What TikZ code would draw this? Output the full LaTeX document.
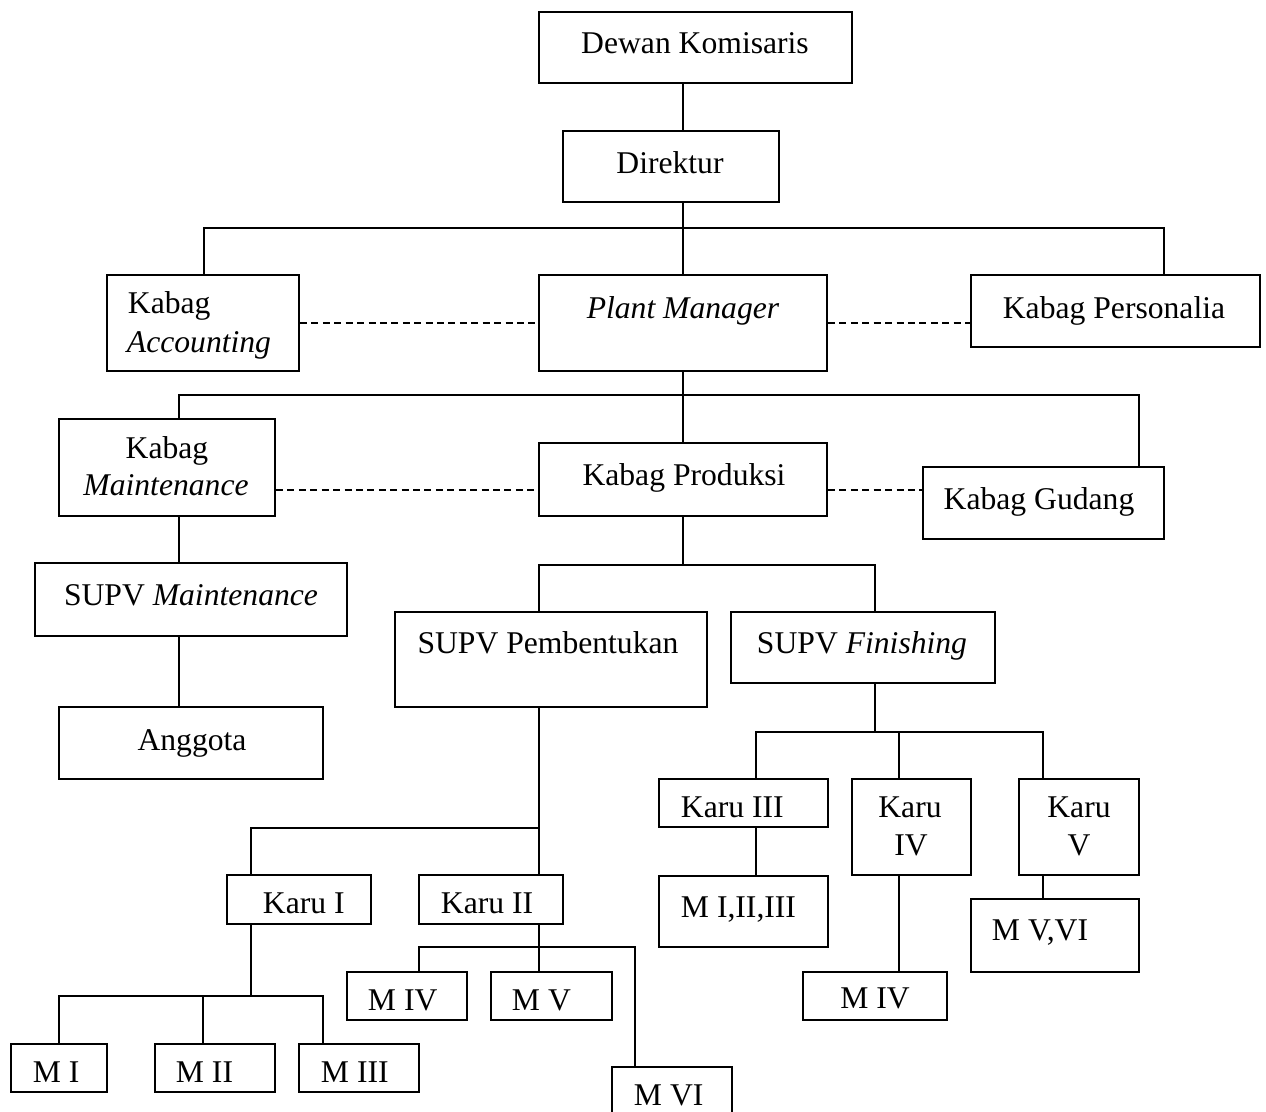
\documentclass[tikz,border=0pt]{standalone}
\usepackage{fontspec}
\setmainfont{Liberation Serif}
\usepackage{tikz}

\begin{document}
\begin{tikzpicture}[x=0.2mm,y=-0.2mm,line width=1.1pt,
    box/.style 2 args={draw,rectangle,inner sep=0pt,minimum width=#1*0.2mm,minimum height=#2*0.2mm},
    txt/.style={inner sep=0pt,font=\fontsize{18}{21.6}\selectfont},
    dash line/.style={line width=1.1pt,dash pattern=on 4pt off 2.5pt}]
  \useasboundingbox (0,0) rectangle (1266,1111);
  \begin{scope}
    % boxes
    \node[box={313}{71}] (dk) at (695.5,47.5) {};
    \node[box={216}{71}] (dir) at (671,166.5) {};
    \node[box={192}{96}] (acc) at (203,323) {};
    \node[box={288}{96}] (pm) at (683,323) {};
    \node[box={289}{72}] (pers) at (1115.5,311) {};
    \node[box={216}{97}] (mnt) at (167,467.5) {};
    \node[box={288}{73}] (prod) at (683,479.5) {};
    \node[box={241}{72}] (gud) at (1043.5,503) {};
    \node[box={312}{73}] (smnt) at (191,599.5) {};
    \node[box={264}{72}] (ang) at (191,743) {};
    \node[box={312}{95}] (spb) at (551,659.5) {};
    \node[box={264}{71}] (sfin) at (863,647.5) {};
    \node[box={144}{49}] (k1) at (299,899.5) {};
    \node[box={144}{49}] (k2) at (491,899.5) {};
    \node[box={169}{48}] (k3) at (743.5,803) {};
    \node[box={119}{96}] (k4) at (911.5,827) {};
    \node[box={120}{96}] (k5) at (1079,827) {};
    \node[box={96}{48}] (m1) at (59,1068) {};
    \node[box={120}{48}] (m2) at (215,1068) {};
    \node[box={120}{48}] (m3) at (359,1068) {};
    \node[box={120}{48}] (m4) at (407,996) {};
    \node[box={121}{48}] (m5) at (551.5,996) {};
    \node[box={120}{73}] (m6) at (672,1103.5) {};
    \node[box={169}{71}] (m123) at (743.5,911.5) {};
    \node[box={144}{48}] (m4b) at (875,996) {};
    \node[box={168}{73}] (m56) at (1055,935.5) {};

    % texts
    \node[txt,anchor=base] (dk-t) at (695,53) {Dewan Komisaris};
    \node[txt,anchor=base] (dir-t) at (670,173) {Direktur};
    \node[txt,anchor=base west] (acc-t1) at (127,313) {Kabag};
    \node[txt,anchor=base west] (acc-t2) at (126,352) {\textit{Accounting}};
    \node[txt,anchor=base] (pm-t) at (683,318) {\textit{Plant Manager}};
    \node[txt,anchor=base] (pers-t) at (1114,318) {Kabag Personalia};
    \node[txt,anchor=base] (mnt-t1) at (167,458) {Kabag};
    \node[txt,anchor=base] (mnt-t2) at (166,495) {\textit{Maintenance}};
    \node[txt,anchor=base] (prod-t) at (684,485) {Kabag Produksi};
    \node[txt,anchor=base] (gud-t) at (1039,509) {Kabag Gudang};
    \node[txt,anchor=base] (smnt-t) at (191,605) {SUPV \textit{Maintenance}};
    \node[txt,anchor=base] (ang-t) at (192,750) {Anggota};
    \node[txt,anchor=base] (spb-t) at (548,653) {SUPV Pembentukan};
    \node[txt,anchor=base] (sfin-t) at (862,653) {SUPV \textit{Finishing}};
    \node[txt,anchor=base west] (k1-t) at (262,913) {Karu I};
    \node[txt,anchor=base west] (k2-t) at (440,913) {Karu II};
    \node[txt,anchor=base west] (k3-t) at (680,817) {Karu III};
    \node[txt,anchor=base] (k4-t1) at (910,817) {Karu};
    \node[txt,anchor=base] (k4-t2) at (911,855) {IV};
    \node[txt,anchor=base] (k5-t1) at (1079,817) {Karu};
    \node[txt,anchor=base] (k5-t2) at (1079,855) {V};
    \node[txt,anchor=base west] (m1-t) at (32,1082) {M I};
    \node[txt,anchor=base west] (m2-t) at (175,1082) {M II};
    \node[txt,anchor=base west] (m3-t) at (320,1082) {M III};
    \node[txt,anchor=base west] (m4-t) at (367,1010) {M IV};
    \node[txt,anchor=base west] (m5-t) at (511,1010) {M V};
    \node[txt,anchor=base west] (m6-t) at (633,1105) {M VI};
    \node[txt,anchor=base west] (m123-t) at (680,917) {M I,II,III};
    \node[txt,anchor=base] (m4b-t) at (875,1008) {M IV};
    \node[txt,anchor=base west] (m56-t) at (991,940) {M V,VI};

    % junctions
    \coordinate (top-l) at (204,228);
    \coordinate (top-r) at (1164,228);
    \coordinate (mid-l) at (179,395);
    \coordinate (mid-r) at (1139,395);
    \coordinate (dsh) at (0,490);
    \coordinate (prod-l) at (539,565);
    \coordinate (prod-r) at (875,565);
    \coordinate (k-l) at (251,828);
    \coordinate (k-r) at (539,828);
    \coordinate (m-l) at (59,996);
    \coordinate (m-c) at (251,996);
    \coordinate (m-2) at (203,996);
    \coordinate (m-r) at (323,996);
    \coordinate (n-l) at (419,947);
    \coordinate (n-c) at (539,947);
    \coordinate (n-r) at (635,947);
    \coordinate (f-l) at (756,732);
    \coordinate (f-c) at (875,732);
    \coordinate (f-m) at (899,732);
    \coordinate (f-r) at (1043,732);

    % solid lines
    \path[-] (dk.south -| pm.north) edge (dir.north -| pm.north);
    \path[-] (dir.south -| pm.north) edge (pm.north);
    \draw (acc.north -| top-l) -- (top-l) -- (top-r) -- (pers.north -| top-r);
    \path[-] (pm.south) edge (prod.north);
    \draw (mnt.north -| mid-l) -- (mid-l) -- (mid-r) -- (gud.north -| mid-r);
    \path[-] (mnt.south -| mid-l) edge (smnt.north -| mid-l);
    \path[-] (smnt.south -| mid-l) edge (ang.north -| mid-l);
    \path[-] (prod.south) edge (prod.south |- prod-l);
    \draw (spb.north -| prod-l) -- (prod-l) -- (prod-r) -- (sfin.north -| prod-r);
    \path[-] (spb.south -| k-r) edge (k2.north -| k-r);
    \draw (k-r) -- (k-l) -- (k1.north -| k-l);
    \path[-] (k1.south -| m-c) edge (m-c);
    \draw (m1.north -| m-l) -- (m-l) -- (m-r) -- (m3.north -| m-r);
    \path[-] (m-2) edge (m2.north -| m-2);
    \path[-] (k2.south -| n-c) edge (m5.north -| n-c);
    \draw (m4.north -| n-l) -- (n-l) -- (n-r) -- (m6.north -| n-r);
    \path[-] (sfin.south -| f-c) edge (f-c);
    \draw (k3.north -| f-l) -- (f-l) -- (f-r) -- (k5.north -| f-r);
    \path[-] (f-m) edge (k4.north -| f-m);
    \path[-] (k3.south -| f-l) edge (m123.north -| f-l);
    \path[-] (k4.south -| f-m) edge (m4b.north -| f-m);
    \path[-] (k5.south -| f-r) edge (m56.north -| f-r);

    % dashed lines
    \path[dash line] (acc.east) edge (pm.west);
    \path[dash line] (pm.east) edge (pm.east -| pers.west);
    \path[dash line] (mnt.east |- dsh) edge (prod.west |- dsh);
    \path[dash line] (prod.east |- dsh) edge (gud.west |- dsh);
  \end{scope}
\end{tikzpicture}
\end{document}
